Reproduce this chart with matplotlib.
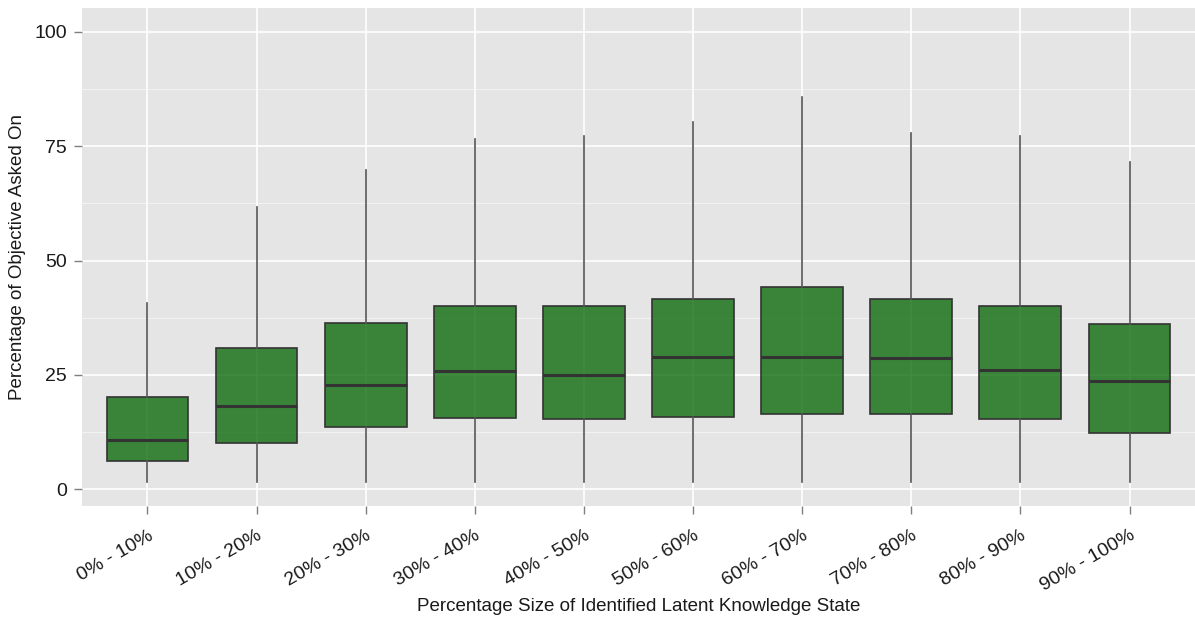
import numpy as np
import matplotlib
matplotlib.use("Agg")
import matplotlib.pyplot as plt

# Box statistics
categories = ['0% - 10%', '10% - 20%', '20% - 30%', '30% - 40%', '40% - 50%',
              '50% - 60%', '60% - 70%', '70% - 80%', '80% - 90%', '90% - 100%']
whisker_low = [1.6, 1.6, 1.6, 1.6, 1.6, 1.6, 1.6, 1.6, 1.6, 1.6]
q1 = [6.2, 10.0, 13.6, 15.5, 15.4, 15.7, 16.5, 16.5, 15.4, 12.4]
median = [10.7, 18.2, 22.8, 25.9, 24.9, 28.8, 28.8, 28.7, 26.1, 23.7]
q3 = [20.1, 30.8, 36.3, 40.0, 40.0, 41.6, 44.3, 41.6, 40.0, 36.2]
whisker_high = [40.7, 61.7, 69.8, 76.6, 77.2, 80.3, 85.8, 77.9, 77.2, 71.6]

plt.rcParams['font.family'] = ['Liberation Sans', 'DejaVu Sans']

fig = plt.figure(figsize=(11.95, 6.18), dpi=100)
ax = fig.add_axes([0.0686, 0.181, 0.9314, 0.806])
ax.set_facecolor('#E5E5E5')

stats = []
for i, cat in enumerate(categories):
    stats.append({'label': cat, 'whislo': whisker_low[i], 'q1': q1[i],
                  'med': median[i], 'q3': q3[i], 'whishi': whisker_high[i],
                  'fliers': []})

pos = np.arange(1, len(categories) + 1)

# grid first (shows faintly through the translucent boxes)
for y in [12.5, 37.5, 62.5, 87.5]:
    ax.axhline(y, color='#F2F2F2', lw=0.8, zorder=0)
for y in [0, 25, 50, 75, 100]:
    ax.axhline(y, color='white', lw=1.2, zorder=0)
for x in pos:
    ax.axvline(x, color='white', lw=1.2, zorder=0)

ax.bxp(stats, positions=pos, widths=0.75, patch_artist=True, showcaps=False,
       boxprops=dict(facecolor=(0, 100/255, 0, 0.75), edgecolor='#333333', lw=1.2),
       medianprops=dict(color='#333333', lw=2.2),
       whiskerprops=dict(color='#555555', lw=1.2),
       zorder=2)

ax.set_xlim(0.4, 10.6)
ax.set_ylim(-3.7, 105.2)
ax.set_yticks([0, 25, 50, 75, 100])
ax.set_xticks(pos)
ax.set_xticklabels(categories, rotation=30, ha='right', rotation_mode='anchor')
ax.tick_params(axis='both', colors='#7F7F7F', length=6, width=1)
ax.tick_params(axis='both', labelcolor='#1A1A1A', labelsize=14)
ax.tick_params(axis='x', pad=9)
ax.tick_params(axis='y', pad=5)

for s in ax.spines.values():
    s.set_visible(False)

ax.set_xlabel('Percentage Size of Identified Latent Knowledge State', fontsize=13.5,
              color='#1A1A1A', labelpad=2)
ax.set_ylabel('Percentage of Objective Asked On', fontsize=13.5, color='#1A1A1A',
              labelpad=6)

fig.savefig('out.png', dpi=100)
